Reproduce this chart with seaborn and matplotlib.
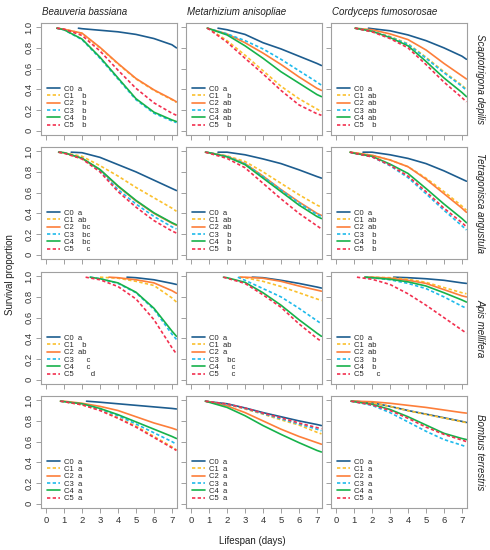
import matplotlib
matplotlib.use("Agg")
import matplotlib.pyplot as plt
import numpy as np
import pandas as pd
import seaborn as sns

DAYS = [1, 2, 3, 4, 5, 6, 7, 7.25]
START_Y = 0.99
GROUPS = ["C0", "C1", "C2", "C3", "C4", "C5"]
FUNGI = ["Beauveria bassiana", "Metarhizium anisopliae", "Cordyceps fumosorosae"]
BEES = ["Scaptotrigona depilis", "Tetragonisca angustula", "Apis mellifera", "Bombus terrestris"]

N = None

# --- Scaptotrigona depilis ---
SD_BB_START = [1.8, 0.6, 0.6, 0.6, 0.6, 0.6]
SD_BB = [
    [N, .985, .97, .955, .93, .89, .83, .80],
    [.98, .94, .80, .645, .50, .39, .30, .275],
    [.98, .942, .805, .65, .505, .395, .305, .28],
    [.975, .88, .70, .50, .30, .17, .095, .08],
    [.975, .885, .71, .51, .31, .18, .105, .09],
    [.98, .92, .77, .585, .41, .27, .17, .15],
]
SD_BB_SIG = ["a", "b", "b", "b", "b", "b"]

SD_MA_START = [1.5, 0.9, 0.9, 0.9, 0.9, 0.9]
SD_MA = [
    [N, .975, .93, .85, .79, .72, .65, .63],
    [.985, .87, .73, .58, .43, .31, .21, .185],
    [.985, .935, .85, .75, .64, .52, .41, .39],
    [.985, .935, .87, .79, .69, .58, .47, .44],
    [.985, .925, .82, .70, .57, .46, .35, .33],
    [.98, .855, .70, .55, .39, .25, .165, .15],
]
SD_MA_SIG = ["a", "b", "ab", "ab", "ab", "b"]

SD_CF_START = [1.8, 1.06, 1.06, 1.06, 1.06, 1.06]
SD_CF = [
    [N, .985, .965, .925, .87, .80, .72, .69],
    [N, .96, .91, .84, .71, .57, .44, .40],
    [N, .975, .935, .88, .78, .65, .53, .50],
    [N, .96, .905, .835, .70, .56, .43, .39],
    [N, .96, .90, .82, .67, .51, .37, .33],
    [N, .955, .89, .80, .64, .47, .32, .28],
]
SD_CF_SIG = ["a", "ab", "ab", "ab", "ab", "b"]

# --- Tetragonisca angustula ---
TA_BB_START = [1.4, 0.7, 0.7, 0.7, 0.7, 0.7]
TA_BB = [
    [N, .985, .94, .87, .80, .72, .64, .62],
    [.985, .95, .86, .76, .65, .55, .45, .42],
    [.985, .93, .82, .66, .52, .40, .305, .285],
    [.985, .93, .81, .63, .49, .37, .27, .25],
    [.985, .932, .823, .665, .525, .405, .31, .29],
    [.98, .925, .80, .61, .46, .33, .23, .21],
]
TA_BB_SIG = ["a", "ab", "bc", "bc", "bc", "c"]

TA_MA_START = [1.5, 0.8, 0.8, 0.8, 0.8, 0.8]
TA_MA = [
    [N, .99, .965, .925, .88, .82, .755, .74],
    [.985, .955, .90, .80, .69, .58, .48, .46],
    [.985, .95, .88, .76, .63, .51, .40, .38],
    [.985, .95, .878, .755, .625, .50, .39, .37],
    [.985, .945, .87, .74, .61, .48, .37, .35],
    [.98, .93, .84, .69, .54, .40, .28, .25],
]
TA_MA_SIG = ["a", "ab", "ab", "b", "b", "b"]

TA_CF_START = [1.5, 0.78, 0.78, 0.78, 0.78, 0.78]
TA_CF = [
    [N, .99, .965, .93, .88, .81, .73, .71],
    [.985, .96, .915, .85, .74, .61, .47, .43],
    [.985, .96, .915, .85, .73, .59, .45, .41],
    [.98, .945, .86, .745, .59, .43, .28, .24],
    [.98, .95, .875, .785, .64, .49, .35, .31],
    [.98, .945, .865, .76, .61, .45, .31, .27],
]
TA_CF_SIG = ["a", "ab", "ab", "b", "b", "b"]

# --- Apis mellifera ---
AM_BB_START = [4.5, 3.0, 3.5, 2.45, 2.45, 2.2]
AM_BB = [
    [N, N, N, N, .985, .965, .93, .92],
    [N, N, N, .98, .95, .91, .79, .75],
    [N, N, N, .985, .965, .935, .86, .835],
    [N, N, .975, .93, .84, .68, .44, .39],
    [N, N, .975, .935, .845, .69, .47, .42],
    [N, N, .965, .90, .78, .58, .31, .25],
]
AM_BB_SIG = ["a", "b", "ab", "c", "c", "d"]

AM_MA_START = [3.4, 2.7, 2.7, 2.6, 1.8, 1.8]
AM_MA = [
    [N, N, N, .985, .96, .93, .895, .885],
    [N, N, .985, .95, .90, .84, .78, .765],
    [N, N, .99, .98, .95, .905, .865, .855],
    [N, N, .96, .88, .80, .69, .57, .54],
    [N, .985, .94, .84, .72, .58, .45, .42],
    [N, .98, .93, .82, .70, .54, .40, .37],
]
AM_MA_SIG = ["a", "ab", "a", "bc", "c", "c"]

AM_CF_START = [3.2, 1.6, 1.6, 1.6, 1.6, 1.16]
AM_CF = [
    [N, N, N, .985, .975, .96, .935, .93],
    [N, .99, .985, .97, .94, .89, .84, .83],
    [N, .99, .98, .96, .93, .87, .81, .80],
    [N, .985, .965, .93, .88, .80, .71, .69],
    [N, .985, .97, .945, .905, .84, .77, .75],
    [N, .97, .92, .83, .72, .60, .48, .45],
]
AM_CF_SIG = ["a", "ab", "ab", "b", "b", "c"]

# --- Bombus terrestris ---
BT_BB_START = [2.25, 0.8, 0.8, 0.8, 0.8, 0.8]
BT_BB = [
    [N, N, .98, .965, .95, .935, .92, .915],
    [.985, .955, .905, .83, .75, .65, .55, .52],
    [.99, .97, .94, .90, .84, .78, .73, .715],
    [.985, .96, .915, .85, .77, .685, .60, .575],
    [.985, .965, .92, .86, .79, .72, .65, .63],
    [.985, .955, .90, .825, .74, .64, .54, .515],
]
BT_BB_SIG = ["a", "a", "a", "a", "a", "a"]

BT_MA_START = [0.8, 0.8, 0.8, 0.8, 0.8, 0.8]
BT_MA = [
    [.985, .965, .925, .88, .84, .80, .765, .755],
    [.985, .96, .915, .865, .81, .76, .69, .675],
    [.985, .945, .88, .80, .72, .65, .59, .575],
    [.985, .96, .92, .87, .82, .77, .72, .705],
    [.98, .93, .85, .755, .67, .59, .515, .50],
    [.985, .963, .923, .875, .83, .78, .735, .725],
]
BT_MA_SIG = ["a", "a", "a", "a", "a", "a"]

BT_CF_START = [0.84, 0.84, 0.84, 0.84, 0.84, 0.84]
BT_CF = [
    [.99, .975, .94, .90, .865, .83, .795, .785],
    [.99, .975, .94, .898, .863, .828, .792, .783],
    [.99, .985, .97, .95, .93, .905, .88, .875],
    [.985, .95, .88, .79, .70, .62, .565, .55],
    [.985, .96, .91, .84, .76, .68, .63, .62],
    [.985, .955, .90, .825, .74, .67, .615, .60],
]
BT_CF_SIG = ["a", "a", "a", "a", "a", "a"]

PANELS = [
    [(SD_BB, SD_BB_START, SD_BB_SIG), (SD_MA, SD_MA_START, SD_MA_SIG), (SD_CF, SD_CF_START, SD_CF_SIG)],
    [(TA_BB, TA_BB_START, TA_BB_SIG), (TA_MA, TA_MA_START, TA_MA_SIG), (TA_CF, TA_CF_START, TA_CF_SIG)],
    [(AM_BB, AM_BB_START, AM_BB_SIG), (AM_MA, AM_MA_START, AM_MA_SIG), (AM_CF, AM_CF_START, AM_CF_SIG)],
    [(BT_BB, BT_BB_START, BT_BB_SIG), (BT_MA, BT_MA_START, BT_MA_SIG), (BT_CF, BT_CF_START, BT_CF_SIG)],
]

COLORS = ["#1d5d8f", "#fbc02d", "#fd7e3a", "#1fbaeb", "#17b24b", "#f2304f"]
DASHES = ["", (2.0, 1.4), "", (2.0, 1.4), "", (2.0, 1.4)]


def sig_text(sig):
    # letters sit in fixed columns a/b/c/d, like the original legend
    last = "abcd".index(sig[-1])
    return "".join(c if c in sig else "  " for c in "abcd"[:last + 1])


def panel_frame(curves, starts, sig):
    rows = []
    for g, ys, s, lt in zip(GROUPS, curves, starts, sig):
        label = f"{g}  {sig_text(lt)}"
        rows.append((label, s, START_Y))
        for d, y in zip(DAYS, ys):
            if y is not None and d > s:
                rows.append((label, d, y))
    return pd.DataFrame(rows, columns=["group", "day", "surv"])


sns.set_theme(style="ticks")
plt.rcParams["font.family"] = ["Liberation Sans", "DejaVu Sans"]

W, H = 490, 550
fig = plt.figure(figsize=(W / 100, H / 100), dpi=100)
lefts = [41, 186, 331]
tops = [23, 147, 272, 396]
aw, ah = 136, 112

for r, top in enumerate(tops):
    for c, left in enumerate(lefts):
        ax = fig.add_axes([left / W, 1 - (top + ah) / H, aw / W, ah / H])
        curves, starts, sig = PANELS[r][c]
        df = panel_frame(curves, starts, sig)
        labels = list(df["group"].unique())
        sns.lineplot(data=df, x="day", y="surv", hue="group", style="group",
                     palette=dict(zip(labels, COLORS)),
                     dashes=dict(zip(labels, DASHES)),
                     estimator=None, sort=False, linewidth=1.2, ax=ax)
        handles, lab = ax.get_legend_handles_labels()
        ax.legend(handles, lab, loc="lower left", frameon=False, fontsize=5.5,
                  handlelength=1.7, handletextpad=0.55, labelspacing=0.0,
                  borderaxespad=0.4, borderpad=0.35)
        ax.set_xlim(-0.28, 7.28)
        ax.set_ylim(-0.04, 1.04)
        ax.set_xticks(range(8))
        ax.set_yticks([0, 0.2, 0.4, 0.6, 0.8, 1.0])
        ax.set_xlabel("")
        ax.set_ylabel("")
        for sp in ax.spines.values():
            sp.set_visible(True)
            sp.set_color("#a0a0a0")
            sp.set_linewidth(0.8)
        ax.tick_params(colors="#a0a0a0", labelcolor="#333333", length=3.5,
                       width=0.7, labelsize=6.8, pad=2)
        if c == 0:
            ax.set_yticklabels(["0", "0.2", "0.4", "0.6", "0.8", "1.0"],
                               rotation=90, va="center")
        else:
            ax.set_yticklabels([])
        if r == len(tops) - 1:
            ax.set_xticklabels([str(i) for i in range(8)])
        else:
            ax.set_xticklabels([])
        if r == 0:
            fig.text((left + 1) / W, 1 - 12 / H, FUNGI[c], style="italic",
                     fontsize=7, va="center", ha="left", color="#222222")
    fig.text(480 / W, 1 - (top + ah / 2) / H, BEES[r], style="italic",
             rotation=-90, fontsize=7, va="center", ha="center", color="#222222")

fig.text(252 / W, 1 - 541 / H, "Lifespan (days)", fontsize=7, ha="center",
         va="center", color="#222222")
fig.text(10 / W, 1 - 275 / H, "Survival proportion", fontsize=7, rotation=90,
         ha="center", va="center", color="#222222")

fig.savefig("out.png", dpi=100)
